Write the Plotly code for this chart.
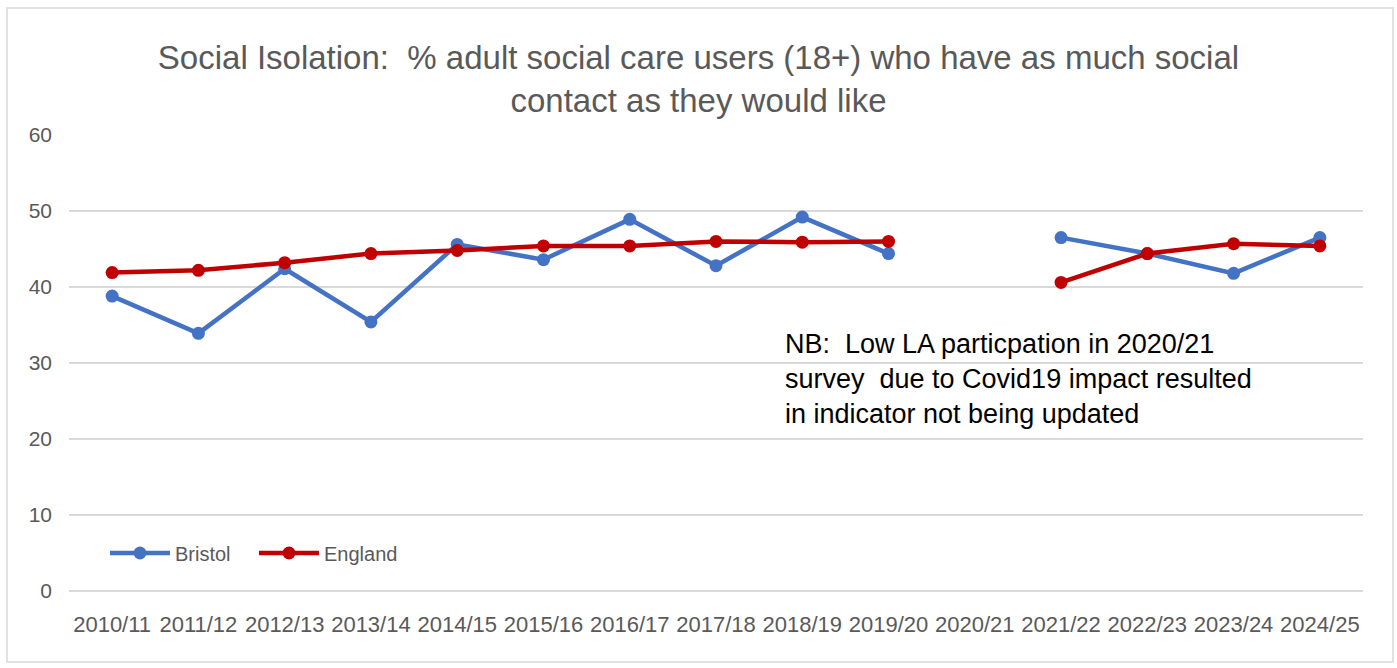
import plotly.graph_objects as go

years = ["2010/11", "2011/12", "2012/13", "2013/14", "2014/15", "2015/16", "2016/17",
         "2017/18", "2018/19", "2019/20", "2020/21", "2021/22", "2022/23", "2023/24", "2024/25"]
bristol = [38.8, 33.9, 42.4, 35.4, 45.6, 43.6, 48.9, 42.8, 49.2, 44.4, None, 46.5, 44.4, 41.8, 46.5]
england = [41.9, 42.2, 43.2, 44.4, 44.8, 45.4, 45.4, 46.0, 45.9, 46.0, None, 40.6, 44.4, 45.7, 45.4]

FONT = "'Liberation Sans', Arial, sans-serif"
GREY = "#595959"

W, H = 1397, 668
L, R, T, B = 69, 34, 135, 77

fig = go.Figure()
fig.add_trace(go.Scatter(x=years, y=bristol, name="Bristol", mode="lines+markers",
                         line=dict(color="#4472C4", width=4.5),
                         marker=dict(color="#4472C4", size=13), connectgaps=False))
fig.add_trace(go.Scatter(x=years, y=england, name="England", mode="lines+markers",
                         line=dict(color="#C00000", width=4.5),
                         marker=dict(color="#C00000", size=13), connectgaps=False))

pw, ph = W - L - R, H - T - B
fig.update_layout(
    width=W, height=H,
    margin=dict(l=L, r=R, t=T, b=B),
    paper_bgcolor="white", plot_bgcolor="white",
    font=dict(family=FONT, color=GREY, size=20),
    title=dict(text="Social Isolation:  % adult social care users (18+) who have as much social<br>contact as they would like",
               x=0.5, xref="container", xanchor="center",
               y=1 - 69 / H, yref="container", yanchor="middle",
               font=dict(family=FONT, size=33, color=GREY)),
    xaxis=dict(type="category", categoryorder="array", categoryarray=years,
               range=[-0.5, len(years) - 0.5],
               showgrid=False, showline=False, zeroline=False,
               ticks="", tickfont=dict(size=22, color=GREY), ticklabelstandoff=18),
    yaxis=dict(range=[0, 60], tickvals=[0, 10, 20, 30, 40, 50, 60],
               showgrid=True, gridcolor="#D9D9D9", gridwidth=1.5,
               zeroline=True, zerolinecolor="#D9D9D9", zerolinewidth=1.5,
               showline=False, ticks="", tickfont=dict(size=21, color=GREY),
               ticklabelstandoff=16),
    legend=dict(orientation="h", x=(105 - L) / pw, y=(591 - 553) / ph,
                xanchor="left", yanchor="middle",
                font=dict(size=20, color=GREY), bgcolor="rgba(0,0,0,0)",
                itemwidth=60, entrywidth=74, entrywidthmode="pixels", tracegroupgap=0),
    showlegend=True,
)

fig.add_annotation(
    text="NB:  Low LA particpation in 2020/21<br>survey  due to Covid19 impact resulted<br>in indicator not being updated",
    xref="paper", yref="paper", x=(783 - L) / pw, y=(591 - 327) / ph,
    xanchor="left", yanchor="top", align="left", showarrow=False,
    font=dict(family=FONT, size=27, color="black"),
)

# chart border
fig.add_shape(type="rect", xref="paper", yref="paper",
              x0=(7 - L) / pw, x1=(1393 - L) / pw,
              y0=(591 - 662) / ph, y1=(591 - 8) / ph,
              line=dict(color="#D9D9D9", width=1.5), fillcolor="rgba(0,0,0,0)", layer="below")

fig.write_html("out.html")
